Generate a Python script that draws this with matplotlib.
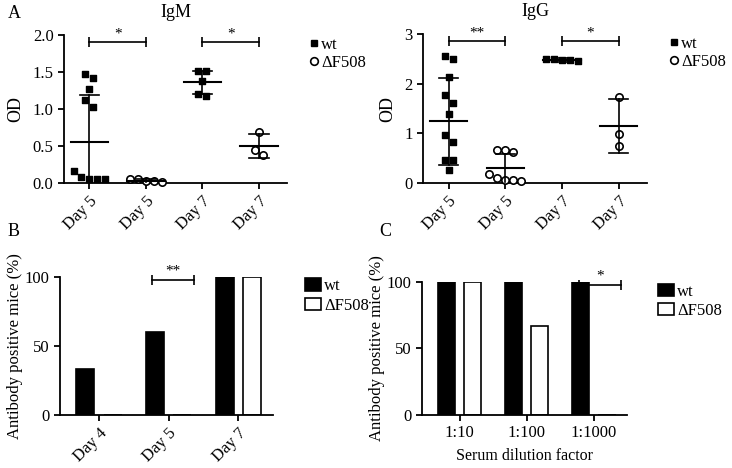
import matplotlib.pyplot as plt
import numpy as np
from matplotlib.lines import Line2D
from matplotlib.patches import Patch

plt.rcParams['font.family'] = ['Liberation Serif', 'DejaVu Serif']
plt.rcParams['axes.linewidth'] = 1.3
plt.rcParams['xtick.major.width'] = 1.3
plt.rcParams['ytick.major.width'] = 1.3

# ---- data ----
groups_a = ["Day 5", "Day 5", "Day 7", "Day 7"]
genotype_a = ["wt", "dF", "wt", "dF"]

igm_points = [
    [1.47, 1.42, 1.27, 1.12, 1.03, 0.16, 0.06, 0.05, 0.05, 0.08],
    [0.06, 0.03, 0.02, 0.03, 0.06],
    [1.51, 1.51, 1.38, 1.18, 1.20],
    [0.69, 0.38, 0.44],
]
igm_mean = [0.55, 0.03, 1.36, 0.50]
igm_sd = [0.64, 0.02, 0.15, 0.16]

igg_points = [
    [2.50, 2.55, 2.13, 1.78, 1.61, 1.40, 0.96, 0.83, 0.46, 0.46, 0.27],
    [0.66, 0.63, 0.66, 0.18, 0.07, 0.05, 0.07, 0.11],
    [2.50, 2.47, 2.45, 2.47, 2.50],
    [1.74, 0.99, 0.74],
]
igg_mean = [1.24, 0.30, 2.48, 1.15]
igg_sd = [0.88, 0.28, 0.04, 0.54]

days_b = ["Day 4", "Day 5", "Day 7"]
wt_b = [33, 60, 100]
df_b = [0, 0, 100]

dilution_c = ["1:10", "1:100", "1:1000"]
wt_c = [100, 100, 100]
df_c = [100, 67, 0]


def spread(values, ppu_y, ppu_x=57.0, gap=9.0, step=8.0):
    # group points that sit close vertically and spread each group sideways
    values = np.asarray(values)
    order = np.argsort(values)[::-1]
    offs = np.zeros(len(values))
    clusters = [[order[0]]]
    for i in order[1:]:
        if (values[clusters[-1][-1]] - values[i]) * ppu_y < gap:
            clusters[-1].append(i)
        else:
            clusters.append([i])
    for cl in clusters:
        n = len(cl)
        for j, i in enumerate(cl):
            offs[i] = (j - (n - 1) / 2) * step / ppu_x
    return offs


def sig(ax, x0, x1, y, label, dy):
    ax.plot([x0, x1], [y, y], color="black", lw=1.2, marker="|", ms=7,
            mew=1.2, clip_on=False)
    ax.text((x0 + x1) / 2, y + dy, label, ha="center", va="bottom", fontsize=11)


def dot_panel(ax, points, mean, sd, ymax, ppu_y, title, yticks, fmt):
    for i, vals in enumerate(points):
        vals = np.array(vals)
        xs = i + spread(vals, ppu_y)
        if genotype_a[i] == "wt":
            ax.scatter(xs, vals, marker="s", s=24, color="black", clip_on=False, zorder=3)
        else:
            ax.scatter(xs, vals, marker="o", s=28, facecolor="white",
                       edgecolor="black", linewidth=1.2, clip_on=False, zorder=3)
        lo = max(mean[i] - sd[i], 0)
        hi = mean[i] + sd[i]
        ax.plot([i - 0.33, i + 0.33], [mean[i], mean[i]], color="black", lw=1.5, zorder=4)
        ax.plot([i, i], [lo, hi], color="black", lw=1.2, zorder=4)
        ax.plot([i - 0.17, i + 0.17], [hi, hi], color="black", lw=1.2, zorder=4)
        if mean[i] - sd[i] > 0.05:
            ax.plot([i - 0.17, i + 0.17], [lo, lo], color="black", lw=1.2, zorder=4)
    ax.set_xlim(-0.45, 3.5)
    ax.set_ylim(0, ymax)
    ax.set_yticks(yticks)
    ax.set_yticklabels([fmt.format(t) for t in yticks])
    ax.set_xticks(range(4))
    ax.set_xticklabels(groups_a, rotation=45, ha="right", rotation_mode="anchor")
    ax.set_ylabel("OD", fontsize=13, labelpad=6)
    ax.set_title(title, fontsize=13, pad=13)
    for s in ["top", "right"]:
        ax.spines[s].set_visible(False)
    ax.tick_params(labelsize=12, length=4)
    handles = [Line2D([], [], marker="s", color="black", ls="", ms=5),
               Line2D([], [], marker="o", mfc="white", mec="black", mew=1.2, ls="", ms=5.5)]
    ax.legend(handles, ["wt", "ΔF508"], loc="upper left", bbox_to_anchor=(1.10, 0.99),
              frameon=False, fontsize=12, handletextpad=0.2, handlelength=0.5,
              borderaxespad=0, borderpad=0, labelspacing=0.15)


def bar_panel(ax, cats, wt, df, rot):
    x = np.arange(len(cats))
    w = 0.26
    ax.bar(x - 0.195, wt, w, color="black", edgecolor="black", lw=1.2)
    ax.bar(x + 0.195, df, w, color="white", edgecolor="black", lw=1.2)
    ax.set_xlim(-0.56, 2.5)
    ax.set_ylim(0, 100)
    ax.set_yticks([0, 50, 100])
    ax.set_xticks(x)
    if rot:
        ax.set_xticklabels(cats, rotation=45, ha="right", rotation_mode="anchor")
    else:
        ax.set_xticklabels(cats)
    ax.set_ylabel("Antibody positive mice (%)", fontsize=12, labelpad=1)
    for s in ["top", "right"]:
        ax.spines[s].set_visible(False)
    ax.tick_params(labelsize=12, length=4)
    handles = [Patch(facecolor="black", edgecolor="black", lw=1.2),
               Patch(facecolor="white", edgecolor="black", lw=1.2)]
    ax.legend(handles, ["wt", "ΔF508"], loc="upper left", bbox_to_anchor=(1.15, 0.99),
              frameon=False, fontsize=12, handletextpad=0.2, handlelength=0.95,
              handleheight=0.75, borderaxespad=0, borderpad=0, labelspacing=0.2)


fig = plt.figure(figsize=(7.32, 4.68), dpi=100)

ax1 = fig.add_axes([0.0874, 0.609, 0.305, 0.316])
dot_panel(ax1, igm_points, igm_mean, igm_sd, 2.0, 74.0, "IgM",
          [0, 0.5, 1.0, 1.5, 2.0], "{:.1f}")
sig(ax1, 0, 1, 1.91, "*", 0.02)
sig(ax1, 2, 3, 1.91, "*", 0.02)

ax2 = fig.add_axes([0.578, 0.609, 0.306, 0.318])
dot_panel(ax2, igg_points, igg_mean, igg_sd, 3.0, 49.7, "IgG",
          [0, 1, 2, 3], "{:d}")
sig(ax2, 0, 1, 2.87, "**", 0.03)
sig(ax2, 2, 3, 2.87, "*", 0.03)

ax3 = fig.add_axes([0.082, 0.1133, 0.291, 0.295])
bar_panel(ax3, days_b, wt_b, df_b, True)
sig(ax3, 1 - 0.245, 1 + 0.37, 97.6, "**", 2)

ax4 = fig.add_axes([0.5765, 0.114, 0.2805, 0.283])
bar_panel(ax4, dilution_c, wt_c, df_c, False)
ax4.set_xlabel("Serum dilution factor", fontsize=11.5, labelpad=5)
sig(ax4, 2 - 0.22, 2 + 0.4, 97.6, "*", 2)

fig.text(8 / 732, 1 - 13 / 468, "A", fontsize=13, va="center")
fig.text(8 / 732, 1 - 232 / 468, "B", fontsize=13, va="center")
fig.text(379 / 732, 1 - 232 / 468, "C", fontsize=13, va="center")

fig.savefig("out.png", dpi=100)
